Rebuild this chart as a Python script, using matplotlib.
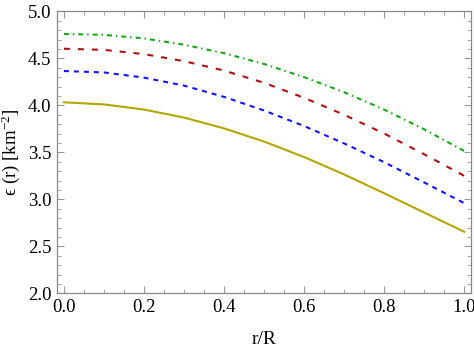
import matplotlib
matplotlib.use("Agg")
import matplotlib.pyplot as plt
from matplotlib.ticker import MultipleLocator, FormatStrFormatter

plt.rcParams['font.family'] = ['Liberation Serif', 'DejaVu Serif']
plt.rcParams['mathtext.fontset'] = 'custom'
plt.rcParams['mathtext.rm'] = 'Liberation Serif'
plt.rcParams['mathtext.it'] = 'Liberation Serif:italic'

r = [0.0, 0.1, 0.2, 0.3, 0.4, 0.5, 0.6, 0.7, 0.8, 0.9, 1.0]
eps_green = [4.759, 4.75, 4.712, 4.645, 4.555, 4.44, 4.30, 4.14, 3.955, 3.745, 3.515]
eps_red = [4.602, 4.59, 4.545, 4.47, 4.37, 4.24, 4.08, 3.90, 3.70, 3.48, 3.25]
eps_blue = [4.365, 4.35, 4.295, 4.21, 4.09, 3.945, 3.78, 3.595, 3.395, 3.18, 2.96]
eps_yellow = [4.032, 4.01, 3.955, 3.87, 3.755, 3.615, 3.45, 3.265, 3.065, 2.86, 2.655]

xlabel = "r/R"
ylabel = r"ϵ (r) [km$^{-2}$]"

fig = plt.figure(figsize=(4.74, 3.54), dpi=100)
ax = fig.add_axes([0.120, 0.1714, 0.874, 0.7966])

lw = 1.5
ax.plot(r, eps_green, color='#16a816', lw=lw, dashes=(2.4, 1.9, 0.7, 1.9))
ax.plot(r, eps_red, color='#b01010', lw=lw, dashes=(2.9, 3.8))
ax.plot(r, eps_blue, color='#1414ff', lw=lw, dashes=(2.4, 2.4))
ax.plot(r, eps_yellow, color='#b3a600', lw=lw)

ax.set_xlim(-0.0175, 1.0175)
ax.set_ylim(2.0, 5.0)
ax.xaxis.set_major_locator(MultipleLocator(0.2))
ax.xaxis.set_minor_locator(MultipleLocator(0.05))
ax.yaxis.set_major_locator(MultipleLocator(0.5))
ax.yaxis.set_minor_locator(MultipleLocator(0.1))
ax.xaxis.set_major_formatter(FormatStrFormatter('%.1f'))
ax.yaxis.set_major_formatter(FormatStrFormatter('%.1f'))

for s in ax.spines.values():
    s.set_color('#888888')
    s.set_linewidth(0.9)
ax.tick_params(which='both', direction='in', top=True, right=True, color='#999999',
               labelsize=13.5, labelcolor='black')
ax.tick_params(which='major', length=5, width=0.8, pad=4)
ax.tick_params(which='minor', length=2.7, width=0.6)

ax.set_xlabel(xlabel, fontsize=14, labelpad=11)
ax.set_ylabel(ylabel, fontsize=13.5, labelpad=4)

fig.savefig("out.png", dpi=100)
